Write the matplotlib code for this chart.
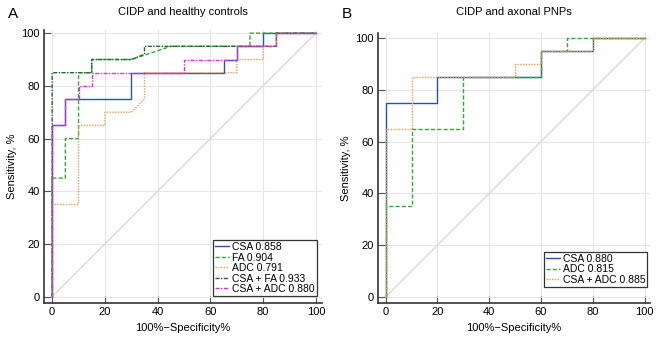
import matplotlib
matplotlib.use("Agg")
import matplotlib.pyplot as plt

plt.rcParams['font.family'] = ['Liberation Sans', 'DejaVu Sans']

# ROC vertices (100%-specificity, sensitivity), panel A
a_csa_x = [0, 0, 5, 5, 30, 30, 65, 65, 70, 70, 80, 80, 100]
a_csa_y = [0, 65, 65, 75, 75, 85, 85, 90, 90, 95, 95, 100, 100]
a_fa_x = [0, 0, 5, 5, 10, 10, 15, 15, 30, 45, 75, 75, 100]
a_fa_y = [0, 45, 45, 60, 60, 85, 85, 90, 90, 95, 95, 100, 100]
a_adc_x = [0, 0, 10, 10, 20, 20, 30, 35, 35, 70, 70, 80, 80, 85, 85, 100]
a_adc_y = [0, 35, 35, 65, 65, 70, 70, 75, 85, 85, 90, 90, 95, 95, 100, 100]
a_csafa_x = [0, 0, 15, 15, 30, 35, 35, 85, 85, 100]
a_csafa_y = [0, 85, 85, 90, 90, 92, 95, 95, 100, 100]
a_csaadc_x = [0, 0, 5, 5, 10, 10, 15, 15, 50, 50, 70, 70, 85, 85, 100]
a_csaadc_y = [0, 65, 65, 75, 75, 80, 80, 85, 85, 90, 90, 95, 95, 100, 100]

# panel B
b_csa_x = [0, 0, 20, 20, 60, 60, 80, 80, 100]
b_csa_y = [0, 75, 75, 85, 85, 95, 95, 100, 100]
b_adc_x = [0, 0, 10, 10, 30, 30, 60, 60, 70, 70, 100]
b_adc_y = [0, 35, 35, 65, 65, 85, 85, 95, 95, 100, 100]
b_csaadc_x = [0, 0, 10, 10, 50, 50, 60, 60, 80, 80, 100]
b_csaadc_y = [0, 65, 65, 85, 85, 90, 90, 95, 95, 100, 100]

labels_a = ['CSA 0.858', 'FA 0.904', 'ADC 0.791', 'CSA + FA 0.933', 'CSA + ADC 0.880']
labels_b = ['CSA 0.880', 'ADC 0.815', 'CSA + ADC 0.885']
ticks = [0, 20, 40, 60, 80, 100]

c_blue = '#2356a6'
c_green = '#34a834'
c_orange = '#f39a4c'
c_dkgreen = '#1f6a2e'
c_magenta = '#e030e0'

fig = plt.figure(figsize=(6.59, 3.40), dpi=100)
ax1 = fig.add_axes([44 / 659, 37 / 340, 277.7 / 659, 273 / 340])
ax2 = fig.add_axes([377.7 / 659, 37 / 340, 272.5 / 659, 270 / 340])


def style(ax, ytop):
    ax.set_xlim(-3.1, 102.2)
    ax.set_ylim(-2.4, ytop)
    ax.set_xticks(ticks)
    ax.set_yticks(ticks)
    ax.grid(True, color='#e6e6e6', lw=0.8)
    ax.set_axisbelow(True)
    for s in ['top', 'right']:
        ax.spines[s].set_visible(False)
    for s in ['left', 'bottom']:
        ax.spines[s].set_color('#333333')
        ax.spines[s].set_linewidth(1.2)
    ax.tick_params(direction='in', length=5, width=0.8, color='#555555',
                   labelsize=8, pad=3)
    ax.plot([0, 100], [0, 100], color='#e4d4da', lw=1, zorder=1)
    ax.set_xlabel('100%\u2212Specificity%', fontsize=8, labelpad=4)
    ax.set_ylabel('Sensitivity, %', fontsize=8, labelpad=3)


style(ax1, 101.2)
style(ax2, 102)

lw = 1.0
ax1.plot(a_csa_x, a_csa_y, color=c_blue, lw=lw, label=labels_a[0])
ax1.plot(a_fa_x, a_fa_y, color=c_green, lw=lw, ls=(0, (3, 1.5)), label=labels_a[1])
ax1.plot(a_adc_x, a_adc_y, color=c_orange, lw=lw, ls=(0, (1, 1)), label=labels_a[2])
ax1.plot(a_csafa_x, a_csafa_y, color=c_dkgreen, lw=lw, ls=(0, (3, 1, 1, 1)), label=labels_a[3])
ax1.plot(a_csaadc_x, a_csaadc_y, color=c_magenta, lw=lw, ls=(0, (3, 1, 1, 1)), label=labels_a[4])

ax2.plot(b_csa_x, b_csa_y, color=c_blue, lw=lw, label=labels_b[0])
ax2.plot(b_adc_x, b_adc_y, color=c_green, lw=lw, ls=(0, (3, 1.5)), label=labels_b[1])
ax2.plot(b_csaadc_x, b_csaadc_y, color=c_orange, lw=lw, ls=(0, (1, 1)), label=labels_b[2])

for ax, anchor in [(ax1, (0.982, 0.025)), (ax2, (0.99, 0.06))]:
    leg = ax.legend(loc='lower right', bbox_to_anchor=anchor, fontsize=7.5,
                    handlelength=1.3, handletextpad=0.3, labelspacing=0.05,
                    borderpad=0.2, borderaxespad=0, fancybox=False, framealpha=1)
    leg.get_frame().set_edgecolor('#333333')
    leg.get_frame().set_linewidth(0.9)

fig.text(183 / 659, 1 - 12 / 340, 'CIDP and healthy controls', fontsize=8,
         ha='center', va='center')
fig.text(514 / 659, 1 - 12 / 340, 'CIDP and axonal PNPs', fontsize=8,
         ha='center', va='center')
fig.text(13 / 659, 1 - 14 / 340, 'A', fontsize=11, ha='center', va='center')
fig.text(347 / 659, 1 - 14 / 340, 'B', fontsize=11, ha='center', va='center')

fig.savefig('out.png', dpi=100)
